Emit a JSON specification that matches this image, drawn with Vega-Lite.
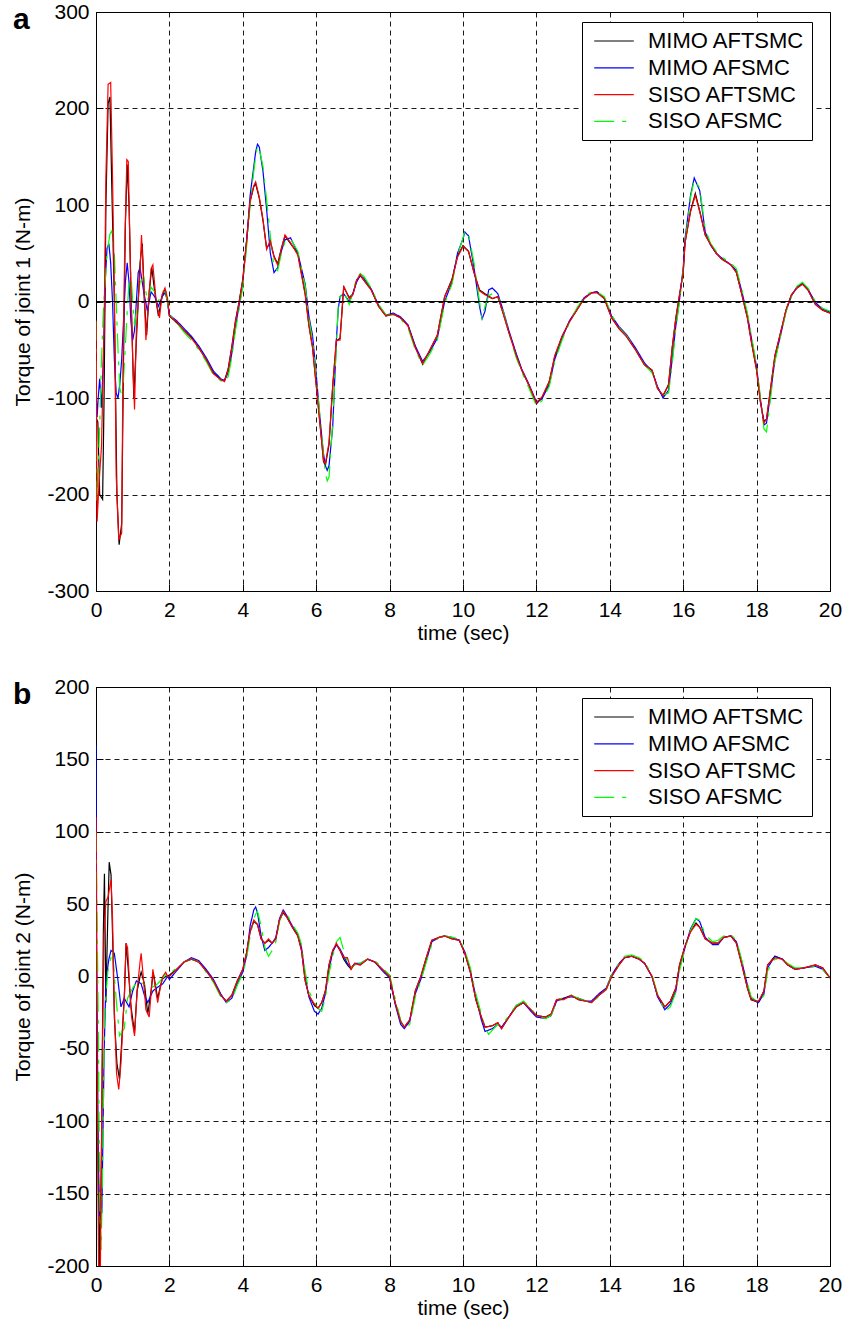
{
"$schema": "https://vega.github.io/schema/vega-lite/v6.json",
"padding": {"left": 12, "top": 0, "right": 4, "bottom": 4},
"background": "white",
"spacing": 31,
"config": {
  "font": "Liberation Sans",
  "view": {"stroke": "#000", "strokeWidth": 1},
  "axis": {"labelFontSize": 21, "titleFontSize": 21, "titleFontWeight": "normal", "labelColor": "#000", "titleColor": "#000", "domainColor": "#000", "tickColor": "#000", "gridColor": "#000", "gridDash": [5, 4], "gridOpacity": 1, "gridWidth": 0.9, "tickSize": -7, "labelFlush": false, "labelOverlap": false, "labelBound": false},
  "axisX": {"labelPadding": 15, "titlePadding": 2},
  "axisY": {"labelPadding": 14, "titlePadding": 13},
  "legend": {"labelFontSize": 22, "labelColor": "#000", "symbolType": "M-1.8,0H1.8", "symbolSize": 484, "symbolStrokeWidth": 1.2, "strokeColor": "#000", "fillColor": "#fff", "padding": 7, "rowPadding": 3.8, "symbolOffset": 13, "labelOffset": 22, "labelLimit": 400, "cornerRadius": 0},
  "title": {"fontSize": 30, "fontWeight": "bold", "color": "#000", "anchor": "start", "frame": "bounds", "offset": 0, "baseline": "alphabetic", "dy": 38}
},
"datasets": {
"ja": [
{"s":"MIMO AFTSMC","t":0,"v":-120},{"s":"MIMO AFTSMC","t":0.05,"v":-125},{"s":"MIMO AFTSMC","t":0.1,"v":-200},{"s":"MIMO AFTSMC","t":0.18,"v":-205},{"s":"MIMO AFTSMC","t":0.22,"v":-100},{"s":"MIMO AFTSMC","t":0.27,"v":100},{"s":"MIMO AFTSMC","t":0.33,"v":205},{"s":"MIMO AFTSMC","t":0.38,"v":212},{"s":"MIMO AFTSMC","t":0.43,"v":120},{"s":"MIMO AFTSMC","t":0.5,"v":0},{"s":"MIMO AFTSMC","t":0.57,"v":-200},{"s":"MIMO AFTSMC","t":0.63,"v":-252},{"s":"MIMO AFTSMC","t":0.7,"v":-230},{"s":"MIMO AFTSMC","t":0.75,"v":-60},{"s":"MIMO AFTSMC","t":0.8,"v":80},{"s":"MIMO AFTSMC","t":0.85,"v":142},{"s":"MIMO AFTSMC","t":0.9,"v":100},{"s":"MIMO AFTSMC","t":0.96,"v":0},{"s":"MIMO AFTSMC","t":1.03,"v":-100},{"s":"MIMO AFTSMC","t":1.1,"v":-40},{"s":"MIMO AFTSMC","t":1.2,"v":40},{"s":"MIMO AFTSMC","t":1.26,"v":60},{"s":"MIMO AFTSMC","t":1.32,"v":0},{"s":"MIMO AFTSMC","t":1.38,"v":-35},{"s":"MIMO AFTSMC","t":1.45,"v":10},{"s":"MIMO AFTSMC","t":1.52,"v":35},{"s":"MIMO AFTSMC","t":1.6,"v":10},{"s":"MIMO AFTSMC","t":1.7,"v":-15},{"s":"MIMO AFTSMC","t":1.8,"v":5},{"s":"MIMO AFTSMC","t":1.87,"v":12},{"s":"MIMO AFTSMC","t":1.95,"v":0},
{"s":"MIMO AFTSMC","t":2,"v":-15},{"s":"MIMO AFTSMC","t":2.2,"v":-22},{"s":"MIMO AFTSMC","t":2.4,"v":-30},{"s":"MIMO AFTSMC","t":2.6,"v":-37},{"s":"MIMO AFTSMC","t":2.8,"v":-48},{"s":"MIMO AFTSMC","t":3,"v":-60},{"s":"MIMO AFTSMC","t":3.2,"v":-74},{"s":"MIMO AFTSMC","t":3.4,"v":-81},{"s":"MIMO AFTSMC","t":3.5,"v":-82},{"s":"MIMO AFTSMC","t":3.6,"v":-70},{"s":"MIMO AFTSMC","t":3.7,"v":-47},{"s":"MIMO AFTSMC","t":3.8,"v":-20},{"s":"MIMO AFTSMC","t":3.9,"v":0},{"s":"MIMO AFTSMC","t":4,"v":23},{"s":"MIMO AFTSMC","t":4.1,"v":62},{"s":"MIMO AFTSMC","t":4.2,"v":104},{"s":"MIMO AFTSMC","t":4.3,"v":119},{"s":"MIMO AFTSMC","t":4.35,"v":122},{"s":"MIMO AFTSMC","t":4.45,"v":107},{"s":"MIMO AFTSMC","t":4.55,"v":84},{"s":"MIMO AFTSMC","t":4.65,"v":55},{"s":"MIMO AFTSMC","t":4.75,"v":62},{"s":"MIMO AFTSMC","t":4.85,"v":47},{"s":"MIMO AFTSMC","t":4.95,"v":39},{"s":"MIMO AFTSMC","t":5.05,"v":55},{"s":"MIMO AFTSMC","t":5.15,"v":68},{"s":"MIMO AFTSMC","t":5.3,"v":60},{"s":"MIMO AFTSMC","t":5.5,"v":50},{"s":"MIMO AFTSMC","t":5.7,"v":8},{"s":"MIMO AFTSMC","t":5.8,"v":-24},{"s":"MIMO AFTSMC","t":5.9,"v":-47},{"s":"MIMO AFTSMC","t":6,"v":-86},{"s":"MIMO AFTSMC","t":6.1,"v":-125},{"s":"MIMO AFTSMC","t":6.2,"v":-166},{"s":"MIMO AFTSMC","t":6.25,"v":-170},{"s":"MIMO AFTSMC","t":6.35,"v":-148},{"s":"MIMO AFTSMC","t":6.45,"v":-88},{"s":"MIMO AFTSMC","t":6.55,"v":-41},{"s":"MIMO AFTSMC","t":6.65,"v":-38},{"s":"MIMO AFTSMC","t":6.75,"v":15},{"s":"MIMO AFTSMC","t":6.9,"v":4},{"s":"MIMO AFTSMC","t":7,"v":8},{"s":"MIMO AFTSMC","t":7.1,"v":22},{"s":"MIMO AFTSMC","t":7.2,"v":27},{"s":"MIMO AFTSMC","t":7.3,"v":22},{"s":"MIMO AFTSMC","t":7.5,"v":12},{"s":"MIMO AFTSMC","t":7.7,"v":-5},{"s":"MIMO AFTSMC","t":7.9,"v":-15},{"s":"MIMO AFTSMC","t":8.1,"v":-13},{"s":"MIMO AFTSMC","t":8.3,"v":-17},{"s":"MIMO AFTSMC","t":8.5,"v":-25},{"s":"MIMO AFTSMC","t":8.7,"v":-47},{"s":"MIMO AFTSMC","t":8.9,"v":-65},{"s":"MIMO AFTSMC","t":9.1,"v":-50},{"s":"MIMO AFTSMC","t":9.3,"v":-35},{"s":"MIMO AFTSMC","t":9.5,"v":5},{"s":"MIMO AFTSMC","t":9.7,"v":23},{"s":"MIMO AFTSMC","t":9.85,"v":47},{"s":"MIMO AFTSMC","t":10,"v":58},{"s":"MIMO AFTSMC","t":10.15,"v":52},{"s":"MIMO AFTSMC","t":10.3,"v":30},{"s":"MIMO AFTSMC","t":10.45,"v":12},{"s":"MIMO AFTSMC","t":10.6,"v":8},{"s":"MIMO AFTSMC","t":10.8,"v":3},{"s":"MIMO AFTSMC","t":10.95,"v":5},{"s":"MIMO AFTSMC","t":11.1,"v":-13},{"s":"MIMO AFTSMC","t":11.25,"v":-32},{"s":"MIMO AFTSMC","t":11.45,"v":-55},{"s":"MIMO AFTSMC","t":11.6,"v":-71},{"s":"MIMO AFTSMC","t":11.8,"v":-87},{"s":"MIMO AFTSMC","t":12,"v":-106},{"s":"MIMO AFTSMC","t":12.15,"v":-100},{"s":"MIMO AFTSMC","t":12.35,"v":-83},{"s":"MIMO AFTSMC","t":12.5,"v":-57},{"s":"MIMO AFTSMC","t":12.7,"v":-36},{"s":"MIMO AFTSMC","t":12.9,"v":-21},{"s":"MIMO AFTSMC","t":13.1,"v":-9},{"s":"MIMO AFTSMC","t":13.3,"v":3},{"s":"MIMO AFTSMC","t":13.5,"v":9},{"s":"MIMO AFTSMC","t":13.65,"v":10},{"s":"MIMO AFTSMC","t":13.85,"v":3},{"s":"MIMO AFTSMC","t":14.05,"v":-17},{"s":"MIMO AFTSMC","t":14.25,"v":-28},{"s":"MIMO AFTSMC","t":14.45,"v":-36},{"s":"MIMO AFTSMC","t":14.7,"v":-50},{"s":"MIMO AFTSMC","t":14.95,"v":-66},{"s":"MIMO AFTSMC","t":15.15,"v":-71},{"s":"MIMO AFTSMC","t":15.3,"v":-90},{"s":"MIMO AFTSMC","t":15.45,"v":-98},{"s":"MIMO AFTSMC","t":15.6,"v":-86},{"s":"MIMO AFTSMC","t":15.7,"v":-48},{"s":"MIMO AFTSMC","t":15.8,"v":-17},{"s":"MIMO AFTSMC","t":15.9,"v":7},{"s":"MIMO AFTSMC","t":16,"v":30},{"s":"MIMO AFTSMC","t":16.05,"v":61},{"s":"MIMO AFTSMC","t":16.2,"v":94},{"s":"MIMO AFTSMC","t":16.33,"v":112},{"s":"MIMO AFTSMC","t":16.45,"v":94},{"s":"MIMO AFTSMC","t":16.6,"v":69},{"s":"MIMO AFTSMC","t":16.75,"v":59},{"s":"MIMO AFTSMC","t":16.9,"v":50},{"s":"MIMO AFTSMC","t":17.05,"v":44},{"s":"MIMO AFTSMC","t":17.3,"v":38},{"s":"MIMO AFTSMC","t":17.45,"v":30},{"s":"MIMO AFTSMC","t":17.6,"v":7},{"s":"MIMO AFTSMC","t":17.75,"v":-17},{"s":"MIMO AFTSMC","t":17.85,"v":-40},{"s":"MIMO AFTSMC","t":18,"v":-71},{"s":"MIMO AFTSMC","t":18.1,"v":-103},{"s":"MIMO AFTSMC","t":18.2,"v":-124},{"s":"MIMO AFTSMC","t":18.27,"v":-122},{"s":"MIMO AFTSMC","t":18.35,"v":-99},{"s":"MIMO AFTSMC","t":18.5,"v":-56},{"s":"MIMO AFTSMC","t":18.7,"v":-25},{"s":"MIMO AFTSMC","t":18.8,"v":-9},{"s":"MIMO AFTSMC","t":18.95,"v":7},{"s":"MIMO AFTSMC","t":19.1,"v":14},{"s":"MIMO AFTSMC","t":19.25,"v":18},{"s":"MIMO AFTSMC","t":19.4,"v":12},{"s":"MIMO AFTSMC","t":19.6,"v":-3},{"s":"MIMO AFTSMC","t":19.8,"v":-9},{"s":"MIMO AFTSMC","t":20,"v":-12},
{"s":"MIMO AFSMC","t":0,"v":-90},{"s":"MIMO AFSMC","t":0.03,"v":-120},{"s":"MIMO AFSMC","t":0.06,"v":-100},{"s":"MIMO AFSMC","t":0.1,"v":-80},{"s":"MIMO AFSMC","t":0.15,"v":-110},{"s":"MIMO AFSMC","t":0.2,"v":-60},{"s":"MIMO AFSMC","t":0.25,"v":20},{"s":"MIMO AFSMC","t":0.3,"v":55},{"s":"MIMO AFSMC","t":0.35,"v":60},{"s":"MIMO AFSMC","t":0.4,"v":40},{"s":"MIMO AFSMC","t":0.45,"v":0},{"s":"MIMO AFSMC","t":0.5,"v":-60},{"s":"MIMO AFSMC","t":0.55,"v":-95},{"s":"MIMO AFSMC","t":0.6,"v":-100},{"s":"MIMO AFSMC","t":0.65,"v":-85},{"s":"MIMO AFSMC","t":0.7,"v":-60},{"s":"MIMO AFSMC","t":0.75,"v":-20},{"s":"MIMO AFSMC","t":0.8,"v":20},{"s":"MIMO AFSMC","t":0.85,"v":40},{"s":"MIMO AFSMC","t":0.9,"v":20},{"s":"MIMO AFSMC","t":0.95,"v":-20},{"s":"MIMO AFSMC","t":1,"v":-40},{"s":"MIMO AFSMC","t":1.05,"v":-30},{"s":"MIMO AFSMC","t":1.1,"v":0},{"s":"MIMO AFSMC","t":1.15,"v":30},{"s":"MIMO AFSMC","t":1.2,"v":35},{"s":"MIMO AFSMC","t":1.3,"v":10},{"s":"MIMO AFSMC","t":1.4,"v":-10},{"s":"MIMO AFSMC","t":1.5,"v":10},{"s":"MIMO AFSMC","t":1.6,"v":5},{"s":"MIMO AFSMC","t":1.7,"v":-5},{"s":"MIMO AFSMC","t":1.8,"v":5},{"s":"MIMO AFSMC","t":1.9,"v":10},
{"s":"MIMO AFSMC","t":2,"v":-14},{"s":"MIMO AFSMC","t":2.2,"v":-20},{"s":"MIMO AFSMC","t":2.4,"v":-28},{"s":"MIMO AFSMC","t":2.6,"v":-36},{"s":"MIMO AFSMC","t":2.8,"v":-46},{"s":"MIMO AFSMC","t":3,"v":-58},{"s":"MIMO AFSMC","t":3.2,"v":-72},{"s":"MIMO AFSMC","t":3.4,"v":-80},{"s":"MIMO AFSMC","t":3.5,"v":-82},{"s":"MIMO AFSMC","t":3.6,"v":-74},{"s":"MIMO AFSMC","t":3.7,"v":-54},{"s":"MIMO AFSMC","t":3.8,"v":-26},{"s":"MIMO AFSMC","t":3.9,"v":-4},{"s":"MIMO AFSMC","t":4,"v":20},{"s":"MIMO AFSMC","t":4.1,"v":60},{"s":"MIMO AFSMC","t":4.2,"v":110},{"s":"MIMO AFSMC","t":4.3,"v":140},{"s":"MIMO AFSMC","t":4.35,"v":155},{"s":"MIMO AFSMC","t":4.4,"v":163},{"s":"MIMO AFSMC","t":4.45,"v":160},{"s":"MIMO AFSMC","t":4.55,"v":135},{"s":"MIMO AFSMC","t":4.65,"v":95},{"s":"MIMO AFSMC","t":4.75,"v":50},{"s":"MIMO AFSMC","t":4.85,"v":30},{"s":"MIMO AFSMC","t":4.95,"v":35},{"s":"MIMO AFSMC","t":5.05,"v":52},{"s":"MIMO AFSMC","t":5.15,"v":64},{"s":"MIMO AFSMC","t":5.3,"v":66},{"s":"MIMO AFSMC","t":5.5,"v":50},{"s":"MIMO AFSMC","t":5.7,"v":18},{"s":"MIMO AFSMC","t":5.8,"v":-15},{"s":"MIMO AFSMC","t":5.9,"v":-35},{"s":"MIMO AFSMC","t":6,"v":-75},{"s":"MIMO AFSMC","t":6.1,"v":-120},{"s":"MIMO AFSMC","t":6.2,"v":-158},{"s":"MIMO AFSMC","t":6.25,"v":-170},{"s":"MIMO AFSMC","t":6.3,"v":-175},{"s":"MIMO AFSMC","t":6.35,"v":-170},{"s":"MIMO AFSMC","t":6.45,"v":-130},{"s":"MIMO AFSMC","t":6.55,"v":-40},{"s":"MIMO AFSMC","t":6.6,"v":-8},{"s":"MIMO AFSMC","t":6.65,"v":5},{"s":"MIMO AFSMC","t":6.75,"v":8},{"s":"MIMO AFSMC","t":6.9,"v":0},{"s":"MIMO AFSMC","t":7,"v":8},{"s":"MIMO AFSMC","t":7.1,"v":20},{"s":"MIMO AFSMC","t":7.2,"v":27},{"s":"MIMO AFSMC","t":7.3,"v":24},{"s":"MIMO AFSMC","t":7.5,"v":13},{"s":"MIMO AFSMC","t":7.7,"v":-4},{"s":"MIMO AFSMC","t":7.9,"v":-14},{"s":"MIMO AFSMC","t":8.1,"v":-12},{"s":"MIMO AFSMC","t":8.3,"v":-16},{"s":"MIMO AFSMC","t":8.5,"v":-24},{"s":"MIMO AFSMC","t":8.7,"v":-46},{"s":"MIMO AFSMC","t":8.9,"v":-62},{"s":"MIMO AFSMC","t":9.1,"v":-52},{"s":"MIMO AFSMC","t":9.3,"v":-38},{"s":"MIMO AFSMC","t":9.5,"v":0},{"s":"MIMO AFSMC","t":9.7,"v":20},{"s":"MIMO AFSMC","t":9.85,"v":50},{"s":"MIMO AFSMC","t":10,"v":65},{"s":"MIMO AFSMC","t":10.05,"v":72},{"s":"MIMO AFSMC","t":10.15,"v":68},{"s":"MIMO AFSMC","t":10.3,"v":35},{"s":"MIMO AFSMC","t":10.45,"v":-5},{"s":"MIMO AFSMC","t":10.52,"v":-18},{"s":"MIMO AFSMC","t":10.6,"v":-10},{"s":"MIMO AFSMC","t":10.7,"v":12},{"s":"MIMO AFSMC","t":10.8,"v":14},{"s":"MIMO AFSMC","t":10.95,"v":8},{"s":"MIMO AFSMC","t":11.1,"v":-10},{"s":"MIMO AFSMC","t":11.25,"v":-30},{"s":"MIMO AFSMC","t":11.45,"v":-54},{"s":"MIMO AFSMC","t":11.6,"v":-70},{"s":"MIMO AFSMC","t":11.8,"v":-86},{"s":"MIMO AFSMC","t":12,"v":-104},{"s":"MIMO AFSMC","t":12.15,"v":-101},{"s":"MIMO AFSMC","t":12.35,"v":-86},{"s":"MIMO AFSMC","t":12.5,"v":-60},{"s":"MIMO AFSMC","t":12.7,"v":-38},{"s":"MIMO AFSMC","t":12.9,"v":-20},{"s":"MIMO AFSMC","t":13.1,"v":-8},{"s":"MIMO AFSMC","t":13.3,"v":4},{"s":"MIMO AFSMC","t":13.5,"v":9},{"s":"MIMO AFSMC","t":13.65,"v":10},{"s":"MIMO AFSMC","t":13.85,"v":4},{"s":"MIMO AFSMC","t":14.05,"v":-15},{"s":"MIMO AFSMC","t":14.25,"v":-26},{"s":"MIMO AFSMC","t":14.45,"v":-34},{"s":"MIMO AFSMC","t":14.7,"v":-48},{"s":"MIMO AFSMC","t":14.95,"v":-64},{"s":"MIMO AFSMC","t":15.15,"v":-72},{"s":"MIMO AFSMC","t":15.3,"v":-88},{"s":"MIMO AFSMC","t":15.45,"v":-100},{"s":"MIMO AFSMC","t":15.6,"v":-92},{"s":"MIMO AFSMC","t":15.7,"v":-60},{"s":"MIMO AFSMC","t":15.8,"v":-25},{"s":"MIMO AFSMC","t":15.9,"v":2},{"s":"MIMO AFSMC","t":16,"v":35},{"s":"MIMO AFSMC","t":16.05,"v":65},{"s":"MIMO AFSMC","t":16.2,"v":110},{"s":"MIMO AFSMC","t":16.3,"v":128},{"s":"MIMO AFSMC","t":16.45,"v":115},{"s":"MIMO AFSMC","t":16.6,"v":72},{"s":"MIMO AFSMC","t":16.75,"v":58},{"s":"MIMO AFSMC","t":16.9,"v":50},{"s":"MIMO AFSMC","t":17.05,"v":45},{"s":"MIMO AFSMC","t":17.3,"v":38},{"s":"MIMO AFSMC","t":17.45,"v":32},{"s":"MIMO AFSMC","t":17.6,"v":10},{"s":"MIMO AFSMC","t":17.75,"v":-14},{"s":"MIMO AFSMC","t":17.85,"v":-36},{"s":"MIMO AFSMC","t":18,"v":-68},{"s":"MIMO AFSMC","t":18.1,"v":-100},{"s":"MIMO AFSMC","t":18.2,"v":-128},{"s":"MIMO AFSMC","t":18.27,"v":-126},{"s":"MIMO AFSMC","t":18.35,"v":-104},{"s":"MIMO AFSMC","t":18.5,"v":-60},{"s":"MIMO AFSMC","t":18.7,"v":-27},{"s":"MIMO AFSMC","t":18.8,"v":-10},{"s":"MIMO AFSMC","t":18.95,"v":6},{"s":"MIMO AFSMC","t":19.1,"v":15},{"s":"MIMO AFSMC","t":19.25,"v":19},{"s":"MIMO AFSMC","t":19.4,"v":13},{"s":"MIMO AFSMC","t":19.6,"v":-1},{"s":"MIMO AFSMC","t":19.8,"v":-8},{"s":"MIMO AFSMC","t":20,"v":-11},
{"s":"SISO AFSMC","t":0,"v":-20},{"s":"SISO AFSMC","t":0.02,"v":-210},{"s":"SISO AFSMC","t":0.06,"v":-170},{"s":"SISO AFSMC","t":0.1,"v":-130},{"s":"SISO AFSMC","t":0.15,"v":-60},{"s":"SISO AFSMC","t":0.2,"v":-10},{"s":"SISO AFSMC","t":0.25,"v":20},{"s":"SISO AFSMC","t":0.3,"v":50},{"s":"SISO AFSMC","t":0.38,"v":70},{"s":"SISO AFSMC","t":0.43,"v":73},{"s":"SISO AFSMC","t":0.5,"v":50},{"s":"SISO AFSMC","t":0.55,"v":0},{"s":"SISO AFSMC","t":0.6,"v":-50},{"s":"SISO AFSMC","t":0.65,"v":-90},{"s":"SISO AFSMC","t":0.72,"v":-100},{"s":"SISO AFSMC","t":0.78,"v":-60},{"s":"SISO AFSMC","t":0.85,"v":-10},{"s":"SISO AFSMC","t":0.9,"v":20},{"s":"SISO AFSMC","t":0.95,"v":30},{"s":"SISO AFSMC","t":1,"v":0},{"s":"SISO AFSMC","t":1.05,"v":-25},{"s":"SISO AFSMC","t":1.1,"v":-10},{"s":"SISO AFSMC","t":1.2,"v":20},{"s":"SISO AFSMC","t":1.3,"v":25},{"s":"SISO AFSMC","t":1.4,"v":0},{"s":"SISO AFSMC","t":1.5,"v":15},{"s":"SISO AFSMC","t":1.6,"v":10},{"s":"SISO AFSMC","t":1.7,"v":0},{"s":"SISO AFSMC","t":1.8,"v":10},{"s":"SISO AFSMC","t":1.9,"v":10},
{"s":"SISO AFSMC","t":2,"v":-13},{"s":"SISO AFSMC","t":2.2,"v":-22},{"s":"SISO AFSMC","t":2.4,"v":-32},{"s":"SISO AFSMC","t":2.6,"v":-40},{"s":"SISO AFSMC","t":2.8,"v":-50},{"s":"SISO AFSMC","t":3,"v":-62},{"s":"SISO AFSMC","t":3.2,"v":-76},{"s":"SISO AFSMC","t":3.4,"v":-82},{"s":"SISO AFSMC","t":3.5,"v":-84},{"s":"SISO AFSMC","t":3.6,"v":-78},{"s":"SISO AFSMC","t":3.7,"v":-58},{"s":"SISO AFSMC","t":3.8,"v":-30},{"s":"SISO AFSMC","t":3.9,"v":-8},{"s":"SISO AFSMC","t":4,"v":15},{"s":"SISO AFSMC","t":4.1,"v":55},{"s":"SISO AFSMC","t":4.2,"v":100},{"s":"SISO AFSMC","t":4.3,"v":135},{"s":"SISO AFSMC","t":4.35,"v":150},{"s":"SISO AFSMC","t":4.4,"v":161},{"s":"SISO AFSMC","t":4.45,"v":158},{"s":"SISO AFSMC","t":4.55,"v":140},{"s":"SISO AFSMC","t":4.65,"v":105},{"s":"SISO AFSMC","t":4.75,"v":68},{"s":"SISO AFSMC","t":4.85,"v":35},{"s":"SISO AFSMC","t":4.95,"v":32},{"s":"SISO AFSMC","t":5.05,"v":50},{"s":"SISO AFSMC","t":5.15,"v":62},{"s":"SISO AFSMC","t":5.3,"v":65},{"s":"SISO AFSMC","t":5.5,"v":52},{"s":"SISO AFSMC","t":5.7,"v":16},{"s":"SISO AFSMC","t":5.8,"v":-18},{"s":"SISO AFSMC","t":5.9,"v":-40},{"s":"SISO AFSMC","t":6,"v":-80},{"s":"SISO AFSMC","t":6.1,"v":-118},{"s":"SISO AFSMC","t":6.2,"v":-160},{"s":"SISO AFSMC","t":6.25,"v":-178},{"s":"SISO AFSMC","t":6.3,"v":-186},{"s":"SISO AFSMC","t":6.35,"v":-182},{"s":"SISO AFSMC","t":6.45,"v":-125},{"s":"SISO AFSMC","t":6.55,"v":-45},{"s":"SISO AFSMC","t":6.6,"v":-5},{"s":"SISO AFSMC","t":6.65,"v":5},{"s":"SISO AFSMC","t":6.75,"v":10},{"s":"SISO AFSMC","t":6.9,"v":-3},{"s":"SISO AFSMC","t":7,"v":10},{"s":"SISO AFSMC","t":7.1,"v":24},{"s":"SISO AFSMC","t":7.2,"v":29},{"s":"SISO AFSMC","t":7.3,"v":26},{"s":"SISO AFSMC","t":7.5,"v":14},{"s":"SISO AFSMC","t":7.7,"v":-3},{"s":"SISO AFSMC","t":7.9,"v":-14},{"s":"SISO AFSMC","t":8.1,"v":-14},{"s":"SISO AFSMC","t":8.3,"v":-18},{"s":"SISO AFSMC","t":8.5,"v":-27},{"s":"SISO AFSMC","t":8.7,"v":-50},{"s":"SISO AFSMC","t":8.9,"v":-66},{"s":"SISO AFSMC","t":9.1,"v":-54},{"s":"SISO AFSMC","t":9.3,"v":-40},{"s":"SISO AFSMC","t":9.5,"v":-2},{"s":"SISO AFSMC","t":9.7,"v":18},{"s":"SISO AFSMC","t":9.85,"v":48},{"s":"SISO AFSMC","t":10,"v":66},{"s":"SISO AFSMC","t":10.05,"v":73},{"s":"SISO AFSMC","t":10.15,"v":70},{"s":"SISO AFSMC","t":10.3,"v":40},{"s":"SISO AFSMC","t":10.45,"v":0},{"s":"SISO AFSMC","t":10.52,"v":-18},{"s":"SISO AFSMC","t":10.6,"v":-5},{"s":"SISO AFSMC","t":10.7,"v":6},{"s":"SISO AFSMC","t":10.8,"v":8},{"s":"SISO AFSMC","t":10.95,"v":6},{"s":"SISO AFSMC","t":11.1,"v":-11},{"s":"SISO AFSMC","t":11.25,"v":-33},{"s":"SISO AFSMC","t":11.45,"v":-58},{"s":"SISO AFSMC","t":11.6,"v":-73},{"s":"SISO AFSMC","t":11.8,"v":-90},{"s":"SISO AFSMC","t":12,"v":-108},{"s":"SISO AFSMC","t":12.15,"v":-103},{"s":"SISO AFSMC","t":12.35,"v":-88},{"s":"SISO AFSMC","t":12.5,"v":-62},{"s":"SISO AFSMC","t":12.7,"v":-40},{"s":"SISO AFSMC","t":12.9,"v":-22},{"s":"SISO AFSMC","t":13.1,"v":-7},{"s":"SISO AFSMC","t":13.3,"v":5},{"s":"SISO AFSMC","t":13.5,"v":10},{"s":"SISO AFSMC","t":13.65,"v":10},{"s":"SISO AFSMC","t":13.85,"v":5},{"s":"SISO AFSMC","t":14.05,"v":-14},{"s":"SISO AFSMC","t":14.25,"v":-27},{"s":"SISO AFSMC","t":14.45,"v":-35},{"s":"SISO AFSMC","t":14.7,"v":-50},{"s":"SISO AFSMC","t":14.95,"v":-66},{"s":"SISO AFSMC","t":15.15,"v":-74},{"s":"SISO AFSMC","t":15.3,"v":-90},{"s":"SISO AFSMC","t":15.45,"v":-97},{"s":"SISO AFSMC","t":15.6,"v":-95},{"s":"SISO AFSMC","t":15.7,"v":-65},{"s":"SISO AFSMC","t":15.8,"v":-28},{"s":"SISO AFSMC","t":15.9,"v":0},{"s":"SISO AFSMC","t":16,"v":32},{"s":"SISO AFSMC","t":16.05,"v":60},{"s":"SISO AFSMC","t":16.2,"v":108},{"s":"SISO AFSMC","t":16.3,"v":126},{"s":"SISO AFSMC","t":16.45,"v":118},{"s":"SISO AFSMC","t":16.6,"v":75},{"s":"SISO AFSMC","t":16.75,"v":60},{"s":"SISO AFSMC","t":16.9,"v":52},{"s":"SISO AFSMC","t":17.05,"v":46},{"s":"SISO AFSMC","t":17.3,"v":40},{"s":"SISO AFSMC","t":17.45,"v":34},{"s":"SISO AFSMC","t":17.6,"v":12},{"s":"SISO AFSMC","t":17.75,"v":-12},{"s":"SISO AFSMC","t":17.85,"v":-34},{"s":"SISO AFSMC","t":18,"v":-66},{"s":"SISO AFSMC","t":18.1,"v":-98},{"s":"SISO AFSMC","t":18.2,"v":-132},{"s":"SISO AFSMC","t":18.27,"v":-135},{"s":"SISO AFSMC","t":18.35,"v":-110},{"s":"SISO AFSMC","t":18.5,"v":-62},{"s":"SISO AFSMC","t":18.7,"v":-28},{"s":"SISO AFSMC","t":18.8,"v":-11},{"s":"SISO AFSMC","t":18.95,"v":5},{"s":"SISO AFSMC","t":19.1,"v":16},{"s":"SISO AFSMC","t":19.25,"v":20},{"s":"SISO AFSMC","t":19.4,"v":14},{"s":"SISO AFSMC","t":19.6,"v":0},{"s":"SISO AFSMC","t":19.8,"v":-7},{"s":"SISO AFSMC","t":20,"v":-10},
{"s":"SISO AFTSMC","t":0,"v":-20},{"s":"SISO AFTSMC","t":0.03,"v":-228},{"s":"SISO AFTSMC","t":0.08,"v":-190},{"s":"SISO AFTSMC","t":0.15,"v":-150},{"s":"SISO AFTSMC","t":0.22,"v":-30},{"s":"SISO AFTSMC","t":0.27,"v":130},{"s":"SISO AFTSMC","t":0.33,"v":225},{"s":"SISO AFTSMC","t":0.4,"v":227},{"s":"SISO AFTSMC","t":0.45,"v":130},{"s":"SISO AFTSMC","t":0.5,"v":10},{"s":"SISO AFTSMC","t":0.55,"v":-180},{"s":"SISO AFTSMC","t":0.62,"v":-247},{"s":"SISO AFTSMC","t":0.7,"v":-240},{"s":"SISO AFTSMC","t":0.73,"v":-90},{"s":"SISO AFTSMC","t":0.78,"v":50},{"s":"SISO AFTSMC","t":0.84,"v":147},{"s":"SISO AFTSMC","t":0.88,"v":145},{"s":"SISO AFTSMC","t":0.94,"v":30},{"s":"SISO AFTSMC","t":1,"v":-60},{"s":"SISO AFTSMC","t":1.05,"v":-112},{"s":"SISO AFTSMC","t":1.1,"v":-30},{"s":"SISO AFTSMC","t":1.2,"v":30},{"s":"SISO AFTSMC","t":1.24,"v":69},{"s":"SISO AFTSMC","t":1.3,"v":20},{"s":"SISO AFTSMC","t":1.36,"v":-40},{"s":"SISO AFTSMC","t":1.43,"v":0},{"s":"SISO AFTSMC","t":1.5,"v":34},{"s":"SISO AFTSMC","t":1.55,"v":38},{"s":"SISO AFTSMC","t":1.64,"v":0},{"s":"SISO AFTSMC","t":1.73,"v":-17},{"s":"SISO AFTSMC","t":1.8,"v":7},{"s":"SISO AFTSMC","t":1.88,"v":14},{"s":"SISO AFTSMC","t":1.95,"v":3},
{"s":"SISO AFTSMC","t":2,"v":-15},{"s":"SISO AFTSMC","t":2.2,"v":-21},{"s":"SISO AFTSMC","t":2.4,"v":-30},{"s":"SISO AFTSMC","t":2.6,"v":-38},{"s":"SISO AFTSMC","t":2.8,"v":-48},{"s":"SISO AFTSMC","t":3,"v":-60},{"s":"SISO AFTSMC","t":3.2,"v":-75},{"s":"SISO AFTSMC","t":3.4,"v":-81},{"s":"SISO AFTSMC","t":3.5,"v":-83},{"s":"SISO AFTSMC","t":3.6,"v":-71},{"s":"SISO AFTSMC","t":3.7,"v":-48},{"s":"SISO AFTSMC","t":3.8,"v":-21},{"s":"SISO AFTSMC","t":3.9,"v":-1},{"s":"SISO AFTSMC","t":4,"v":22},{"s":"SISO AFTSMC","t":4.1,"v":61},{"s":"SISO AFTSMC","t":4.2,"v":104},{"s":"SISO AFTSMC","t":4.3,"v":120},{"s":"SISO AFTSMC","t":4.35,"v":124},{"s":"SISO AFTSMC","t":4.45,"v":108},{"s":"SISO AFTSMC","t":4.55,"v":85},{"s":"SISO AFTSMC","t":4.65,"v":54},{"s":"SISO AFTSMC","t":4.75,"v":63},{"s":"SISO AFTSMC","t":4.85,"v":46},{"s":"SISO AFTSMC","t":4.95,"v":38},{"s":"SISO AFTSMC","t":5.05,"v":54},{"s":"SISO AFTSMC","t":5.15,"v":69},{"s":"SISO AFTSMC","t":5.3,"v":61},{"s":"SISO AFTSMC","t":5.5,"v":48},{"s":"SISO AFTSMC","t":5.7,"v":7},{"s":"SISO AFTSMC","t":5.8,"v":-25},{"s":"SISO AFTSMC","t":5.9,"v":-48},{"s":"SISO AFTSMC","t":6,"v":-87},{"s":"SISO AFTSMC","t":6.1,"v":-126},{"s":"SISO AFTSMC","t":6.2,"v":-165},{"s":"SISO AFTSMC","t":6.25,"v":-168},{"s":"SISO AFTSMC","t":6.35,"v":-146},{"s":"SISO AFTSMC","t":6.45,"v":-87},{"s":"SISO AFTSMC","t":6.55,"v":-40},{"s":"SISO AFTSMC","t":6.65,"v":-40},{"s":"SISO AFTSMC","t":6.75,"v":16},{"s":"SISO AFTSMC","t":6.9,"v":3},{"s":"SISO AFTSMC","t":7,"v":7},{"s":"SISO AFTSMC","t":7.1,"v":22},{"s":"SISO AFTSMC","t":7.2,"v":28},{"s":"SISO AFTSMC","t":7.3,"v":22},{"s":"SISO AFTSMC","t":7.5,"v":12},{"s":"SISO AFTSMC","t":7.7,"v":-5},{"s":"SISO AFTSMC","t":7.9,"v":-15},{"s":"SISO AFTSMC","t":8.1,"v":-13},{"s":"SISO AFTSMC","t":8.3,"v":-17},{"s":"SISO AFTSMC","t":8.5,"v":-25},{"s":"SISO AFTSMC","t":8.7,"v":-48},{"s":"SISO AFTSMC","t":8.9,"v":-64},{"s":"SISO AFTSMC","t":9.1,"v":-50},{"s":"SISO AFTSMC","t":9.3,"v":-35},{"s":"SISO AFTSMC","t":9.5,"v":5},{"s":"SISO AFTSMC","t":9.7,"v":22},{"s":"SISO AFTSMC","t":9.85,"v":46},{"s":"SISO AFTSMC","t":10,"v":57},{"s":"SISO AFTSMC","t":10.15,"v":52},{"s":"SISO AFTSMC","t":10.3,"v":30},{"s":"SISO AFTSMC","t":10.45,"v":11},{"s":"SISO AFTSMC","t":10.6,"v":7},{"s":"SISO AFTSMC","t":10.8,"v":3},{"s":"SISO AFTSMC","t":10.95,"v":5},{"s":"SISO AFTSMC","t":11.1,"v":-13},{"s":"SISO AFTSMC","t":11.25,"v":-32},{"s":"SISO AFTSMC","t":11.45,"v":-56},{"s":"SISO AFTSMC","t":11.6,"v":-71},{"s":"SISO AFTSMC","t":11.8,"v":-87},{"s":"SISO AFTSMC","t":12,"v":-105},{"s":"SISO AFTSMC","t":12.15,"v":-99},{"s":"SISO AFTSMC","t":12.35,"v":-83},{"s":"SISO AFTSMC","t":12.5,"v":-56},{"s":"SISO AFTSMC","t":12.7,"v":-36},{"s":"SISO AFTSMC","t":12.9,"v":-21},{"s":"SISO AFTSMC","t":13.1,"v":-9},{"s":"SISO AFTSMC","t":13.3,"v":3},{"s":"SISO AFTSMC","t":13.5,"v":9},{"s":"SISO AFTSMC","t":13.65,"v":9},{"s":"SISO AFTSMC","t":13.85,"v":3},{"s":"SISO AFTSMC","t":14.05,"v":-17},{"s":"SISO AFTSMC","t":14.25,"v":-28},{"s":"SISO AFTSMC","t":14.45,"v":-36},{"s":"SISO AFTSMC","t":14.7,"v":-50},{"s":"SISO AFTSMC","t":14.95,"v":-66},{"s":"SISO AFTSMC","t":15.15,"v":-71},{"s":"SISO AFTSMC","t":15.3,"v":-90},{"s":"SISO AFTSMC","t":15.45,"v":-97},{"s":"SISO AFTSMC","t":15.6,"v":-87},{"s":"SISO AFTSMC","t":15.7,"v":-48},{"s":"SISO AFTSMC","t":15.8,"v":-17},{"s":"SISO AFTSMC","t":15.9,"v":7},{"s":"SISO AFTSMC","t":16,"v":30},{"s":"SISO AFTSMC","t":16.05,"v":61},{"s":"SISO AFTSMC","t":16.2,"v":93},{"s":"SISO AFTSMC","t":16.33,"v":110},{"s":"SISO AFTSMC","t":16.45,"v":93},{"s":"SISO AFTSMC","t":16.6,"v":69},{"s":"SISO AFTSMC","t":16.75,"v":59},{"s":"SISO AFTSMC","t":16.9,"v":50},{"s":"SISO AFTSMC","t":17.05,"v":44},{"s":"SISO AFTSMC","t":17.3,"v":38},{"s":"SISO AFTSMC","t":17.45,"v":30},{"s":"SISO AFTSMC","t":17.6,"v":7},{"s":"SISO AFTSMC","t":17.75,"v":-17},{"s":"SISO AFTSMC","t":17.85,"v":-40},{"s":"SISO AFTSMC","t":18,"v":-71},{"s":"SISO AFTSMC","t":18.1,"v":-103},{"s":"SISO AFTSMC","t":18.2,"v":-126},{"s":"SISO AFTSMC","t":18.27,"v":-122},{"s":"SISO AFTSMC","t":18.35,"v":-99},{"s":"SISO AFTSMC","t":18.5,"v":-56},{"s":"SISO AFTSMC","t":18.7,"v":-25},{"s":"SISO AFTSMC","t":18.8,"v":-9},{"s":"SISO AFTSMC","t":18.95,"v":7},{"s":"SISO AFTSMC","t":19.1,"v":14},{"s":"SISO AFTSMC","t":19.25,"v":18},{"s":"SISO AFTSMC","t":19.4,"v":12},{"s":"SISO AFTSMC","t":19.6,"v":-3},{"s":"SISO AFTSMC","t":19.8,"v":-9},{"s":"SISO AFTSMC","t":20,"v":-12}
],
"jb": [
{"s":"MIMO AFTSMC","t":0,"v":0},{"s":"MIMO AFTSMC","t":0.05,"v":-120},{"s":"MIMO AFTSMC","t":0.1,"v":-200},{"s":"MIMO AFTSMC","t":0.15,"v":-120},{"s":"MIMO AFTSMC","t":0.2,"v":30},{"s":"MIMO AFTSMC","t":0.23,"v":71},{"s":"MIMO AFTSMC","t":0.27,"v":-18},{"s":"MIMO AFTSMC","t":0.32,"v":40},{"s":"MIMO AFTSMC","t":0.36,"v":79},{"s":"MIMO AFTSMC","t":0.41,"v":70},{"s":"MIMO AFTSMC","t":0.46,"v":20},{"s":"MIMO AFTSMC","t":0.5,"v":-28},{"s":"MIMO AFTSMC","t":0.57,"v":-60},{"s":"MIMO AFTSMC","t":0.64,"v":-71},{"s":"MIMO AFTSMC","t":0.7,"v":-45},{"s":"MIMO AFTSMC","t":0.77,"v":-15},{"s":"MIMO AFTSMC","t":0.82,"v":23},{"s":"MIMO AFTSMC","t":0.88,"v":5},{"s":"MIMO AFTSMC","t":0.95,"v":-20},{"s":"MIMO AFTSMC","t":1.05,"v":-39},{"s":"MIMO AFTSMC","t":1.12,"v":-10},{"s":"MIMO AFTSMC","t":1.2,"v":0},{"s":"MIMO AFTSMC","t":1.23,"v":3},{"s":"MIMO AFTSMC","t":1.32,"v":-5},{"s":"MIMO AFTSMC","t":1.41,"v":-26},{"s":"MIMO AFTSMC","t":1.5,"v":-10},{"s":"MIMO AFTSMC","t":1.56,"v":3},{"s":"MIMO AFTSMC","t":1.68,"v":-15},{"s":"MIMO AFTSMC","t":1.8,"v":-2},{"s":"MIMO AFTSMC","t":1.9,"v":0},
{"s":"MIMO AFTSMC","t":2,"v":1},{"s":"MIMO AFTSMC","t":2.2,"v":5},{"s":"MIMO AFTSMC","t":2.4,"v":10},{"s":"MIMO AFTSMC","t":2.6,"v":12},{"s":"MIMO AFTSMC","t":2.8,"v":10},{"s":"MIMO AFTSMC","t":3,"v":4},{"s":"MIMO AFTSMC","t":3.2,"v":-3},{"s":"MIMO AFTSMC","t":3.4,"v":-13},{"s":"MIMO AFTSMC","t":3.55,"v":-17},{"s":"MIMO AFTSMC","t":3.7,"v":-13},{"s":"MIMO AFTSMC","t":3.85,"v":-3},{"s":"MIMO AFTSMC","t":4,"v":5},{"s":"MIMO AFTSMC","t":4.1,"v":16},{"s":"MIMO AFTSMC","t":4.2,"v":31},{"s":"MIMO AFTSMC","t":4.3,"v":38},{"s":"MIMO AFTSMC","t":4.4,"v":36},{"s":"MIMO AFTSMC","t":4.5,"v":26},{"s":"MIMO AFTSMC","t":4.6,"v":23},{"s":"MIMO AFTSMC","t":4.7,"v":25},{"s":"MIMO AFTSMC","t":4.8,"v":23},{"s":"MIMO AFTSMC","t":4.9,"v":26},{"s":"MIMO AFTSMC","t":5,"v":39},{"s":"MIMO AFTSMC","t":5.1,"v":44},{"s":"MIMO AFTSMC","t":5.2,"v":41},{"s":"MIMO AFTSMC","t":5.35,"v":34},{"s":"MIMO AFTSMC","t":5.5,"v":28},{"s":"MIMO AFTSMC","t":5.6,"v":18},{"s":"MIMO AFTSMC","t":5.7,"v":-3},{"s":"MIMO AFTSMC","t":5.8,"v":-13},{"s":"MIMO AFTSMC","t":5.95,"v":-20},{"s":"MIMO AFTSMC","t":6.05,"v":-22},{"s":"MIMO AFTSMC","t":6.15,"v":-18},{"s":"MIMO AFTSMC","t":6.25,"v":-10},{"s":"MIMO AFTSMC","t":6.35,"v":8},{"s":"MIMO AFTSMC","t":6.45,"v":18},{"s":"MIMO AFTSMC","t":6.55,"v":22},{"s":"MIMO AFTSMC","t":6.65,"v":18},{"s":"MIMO AFTSMC","t":6.75,"v":12},{"s":"MIMO AFTSMC","t":6.85,"v":8},{"s":"MIMO AFTSMC","t":6.95,"v":5},{"s":"MIMO AFTSMC","t":7.05,"v":9},{"s":"MIMO AFTSMC","t":7.2,"v":8},{"s":"MIMO AFTSMC","t":7.4,"v":12},{"s":"MIMO AFTSMC","t":7.6,"v":10},{"s":"MIMO AFTSMC","t":7.8,"v":5},{"s":"MIMO AFTSMC","t":8,"v":0},{"s":"MIMO AFTSMC","t":8.15,"v":-18},{"s":"MIMO AFTSMC","t":8.3,"v":-31},{"s":"MIMO AFTSMC","t":8.4,"v":-35},{"s":"MIMO AFTSMC","t":8.55,"v":-30},{"s":"MIMO AFTSMC","t":8.7,"v":-10},{"s":"MIMO AFTSMC","t":8.85,"v":0},{"s":"MIMO AFTSMC","t":9,"v":13},{"s":"MIMO AFTSMC","t":9.15,"v":25},{"s":"MIMO AFTSMC","t":9.35,"v":27},{"s":"MIMO AFTSMC","t":9.5,"v":28},{"s":"MIMO AFTSMC","t":9.7,"v":26},{"s":"MIMO AFTSMC","t":9.9,"v":25},{"s":"MIMO AFTSMC","t":10.05,"v":16},{"s":"MIMO AFTSMC","t":10.2,"v":3},{"s":"MIMO AFTSMC","t":10.35,"v":-16},{"s":"MIMO AFTSMC","t":10.5,"v":-28},{"s":"MIMO AFTSMC","t":10.6,"v":-35},{"s":"MIMO AFTSMC","t":10.8,"v":-34},{"s":"MIMO AFTSMC","t":10.95,"v":-32},{"s":"MIMO AFTSMC","t":11.05,"v":-36},{"s":"MIMO AFTSMC","t":11.25,"v":-28},{"s":"MIMO AFTSMC","t":11.45,"v":-21},{"s":"MIMO AFTSMC","t":11.65,"v":-18},{"s":"MIMO AFTSMC","t":11.85,"v":-23},{"s":"MIMO AFTSMC","t":12,"v":-27},{"s":"MIMO AFTSMC","t":12.25,"v":-28},{"s":"MIMO AFTSMC","t":12.4,"v":-26},{"s":"MIMO AFTSMC","t":12.55,"v":-16},{"s":"MIMO AFTSMC","t":12.75,"v":-15},{"s":"MIMO AFTSMC","t":12.95,"v":-13},{"s":"MIMO AFTSMC","t":13.15,"v":-16},{"s":"MIMO AFTSMC","t":13.35,"v":-17},{"s":"MIMO AFTSMC","t":13.5,"v":-18},{"s":"MIMO AFTSMC","t":13.7,"v":-13},{"s":"MIMO AFTSMC","t":13.9,"v":-9},{"s":"MIMO AFTSMC","t":14.05,"v":0},{"s":"MIMO AFTSMC","t":14.25,"v":8},{"s":"MIMO AFTSMC","t":14.4,"v":13},{"s":"MIMO AFTSMC","t":14.6,"v":14},{"s":"MIMO AFTSMC","t":14.8,"v":12},{"s":"MIMO AFTSMC","t":14.95,"v":9},{"s":"MIMO AFTSMC","t":15.15,"v":0},{"s":"MIMO AFTSMC","t":15.3,"v":-13},{"s":"MIMO AFTSMC","t":15.5,"v":-21},{"s":"MIMO AFTSMC","t":15.65,"v":-17},{"s":"MIMO AFTSMC","t":15.8,"v":-8},{"s":"MIMO AFTSMC","t":15.9,"v":8},{"s":"MIMO AFTSMC","t":16.05,"v":21},{"s":"MIMO AFTSMC","t":16.2,"v":31},{"s":"MIMO AFTSMC","t":16.35,"v":37},{"s":"MIMO AFTSMC","t":16.45,"v":34},{"s":"MIMO AFTSMC","t":16.6,"v":26},{"s":"MIMO AFTSMC","t":16.8,"v":23},{"s":"MIMO AFTSMC","t":16.95,"v":23},{"s":"MIMO AFTSMC","t":17.1,"v":27},{"s":"MIMO AFTSMC","t":17.3,"v":28},{"s":"MIMO AFTSMC","t":17.45,"v":23},{"s":"MIMO AFTSMC","t":17.6,"v":8},{"s":"MIMO AFTSMC","t":17.75,"v":-8},{"s":"MIMO AFTSMC","t":17.85,"v":-16},{"s":"MIMO AFTSMC","t":18.05,"v":-18},{"s":"MIMO AFTSMC","t":18.2,"v":-10},{"s":"MIMO AFTSMC","t":18.3,"v":8},{"s":"MIMO AFTSMC","t":18.5,"v":14},{"s":"MIMO AFTSMC","t":18.7,"v":12},{"s":"MIMO AFTSMC","t":18.85,"v":8},{"s":"MIMO AFTSMC","t":19.05,"v":5},{"s":"MIMO AFTSMC","t":19.3,"v":6},{"s":"MIMO AFTSMC","t":19.6,"v":8},{"s":"MIMO AFTSMC","t":19.8,"v":6},{"s":"MIMO AFTSMC","t":20,"v":-1},
{"s":"MIMO AFSMC","t":0,"v":160},{"s":"MIMO AFSMC","t":0.02,"v":20},{"s":"MIMO AFSMC","t":0.06,"v":-120},{"s":"MIMO AFSMC","t":0.1,"v":-165},{"s":"MIMO AFSMC","t":0.16,"v":-163},{"s":"MIMO AFSMC","t":0.22,"v":-54},{"s":"MIMO AFSMC","t":0.27,"v":-3},{"s":"MIMO AFSMC","t":0.35,"v":12},{"s":"MIMO AFSMC","t":0.41,"v":18},{"s":"MIMO AFSMC","t":0.5,"v":16},{"s":"MIMO AFSMC","t":0.6,"v":-3},{"s":"MIMO AFSMC","t":0.68,"v":-21},{"s":"MIMO AFSMC","t":0.77,"v":-15},{"s":"MIMO AFSMC","t":0.9,"v":-21},{"s":"MIMO AFSMC","t":1,"v":-10},{"s":"MIMO AFSMC","t":1.1,"v":-3},{"s":"MIMO AFSMC","t":1.23,"v":-5},{"s":"MIMO AFSMC","t":1.32,"v":-13},{"s":"MIMO AFSMC","t":1.41,"v":-18},{"s":"MIMO AFSMC","t":1.55,"v":-10},{"s":"MIMO AFSMC","t":1.7,"v":-7},{"s":"MIMO AFSMC","t":1.82,"v":-5},{"s":"MIMO AFSMC","t":1.95,"v":0},
{"s":"MIMO AFSMC","t":2,"v":-2},{"s":"MIMO AFSMC","t":2.2,"v":4},{"s":"MIMO AFSMC","t":2.4,"v":10},{"s":"MIMO AFSMC","t":2.6,"v":13},{"s":"MIMO AFSMC","t":2.8,"v":11},{"s":"MIMO AFSMC","t":3,"v":5},{"s":"MIMO AFSMC","t":3.2,"v":-2},{"s":"MIMO AFSMC","t":3.4,"v":-12},{"s":"MIMO AFSMC","t":3.55,"v":-18},{"s":"MIMO AFSMC","t":3.7,"v":-15},{"s":"MIMO AFSMC","t":3.85,"v":-5},{"s":"MIMO AFSMC","t":4,"v":3},{"s":"MIMO AFSMC","t":4.1,"v":14},{"s":"MIMO AFSMC","t":4.2,"v":35},{"s":"MIMO AFSMC","t":4.3,"v":46},{"s":"MIMO AFSMC","t":4.35,"v":48},{"s":"MIMO AFSMC","t":4.4,"v":44},{"s":"MIMO AFSMC","t":4.5,"v":28},{"s":"MIMO AFSMC","t":4.6,"v":18},{"s":"MIMO AFSMC","t":4.7,"v":20},{"s":"MIMO AFSMC","t":4.8,"v":23},{"s":"MIMO AFSMC","t":4.9,"v":27},{"s":"MIMO AFSMC","t":5,"v":40},{"s":"MIMO AFSMC","t":5.1,"v":46},{"s":"MIMO AFSMC","t":5.2,"v":42},{"s":"MIMO AFSMC","t":5.35,"v":35},{"s":"MIMO AFSMC","t":5.5,"v":29},{"s":"MIMO AFSMC","t":5.6,"v":20},{"s":"MIMO AFSMC","t":5.7,"v":0},{"s":"MIMO AFSMC","t":5.8,"v":-14},{"s":"MIMO AFSMC","t":5.95,"v":-24},{"s":"MIMO AFSMC","t":6.05,"v":-26},{"s":"MIMO AFSMC","t":6.15,"v":-22},{"s":"MIMO AFSMC","t":6.25,"v":-12},{"s":"MIMO AFSMC","t":6.35,"v":5},{"s":"MIMO AFSMC","t":6.45,"v":17},{"s":"MIMO AFSMC","t":6.55,"v":22},{"s":"MIMO AFSMC","t":6.65,"v":19},{"s":"MIMO AFSMC","t":6.75,"v":14},{"s":"MIMO AFSMC","t":6.85,"v":9},{"s":"MIMO AFSMC","t":6.95,"v":6},{"s":"MIMO AFSMC","t":7.05,"v":9},{"s":"MIMO AFSMC","t":7.2,"v":9},{"s":"MIMO AFSMC","t":7.4,"v":12},{"s":"MIMO AFSMC","t":7.6,"v":10},{"s":"MIMO AFSMC","t":7.8,"v":4},{"s":"MIMO AFSMC","t":8,"v":-1},{"s":"MIMO AFSMC","t":8.15,"v":-19},{"s":"MIMO AFSMC","t":8.3,"v":-33},{"s":"MIMO AFSMC","t":8.4,"v":-36},{"s":"MIMO AFSMC","t":8.55,"v":-31},{"s":"MIMO AFSMC","t":8.7,"v":-12},{"s":"MIMO AFSMC","t":8.85,"v":-2},{"s":"MIMO AFSMC","t":9,"v":11},{"s":"MIMO AFSMC","t":9.15,"v":24},{"s":"MIMO AFSMC","t":9.35,"v":27},{"s":"MIMO AFSMC","t":9.5,"v":28},{"s":"MIMO AFSMC","t":9.7,"v":27},{"s":"MIMO AFSMC","t":9.9,"v":25},{"s":"MIMO AFSMC","t":10.05,"v":17},{"s":"MIMO AFSMC","t":10.2,"v":4},{"s":"MIMO AFSMC","t":10.35,"v":-14},{"s":"MIMO AFSMC","t":10.5,"v":-30},{"s":"MIMO AFSMC","t":10.6,"v":-38},{"s":"MIMO AFSMC","t":10.8,"v":-36},{"s":"MIMO AFSMC","t":10.95,"v":-33},{"s":"MIMO AFSMC","t":11.05,"v":-35},{"s":"MIMO AFSMC","t":11.25,"v":-28},{"s":"MIMO AFSMC","t":11.45,"v":-20},{"s":"MIMO AFSMC","t":11.65,"v":-18},{"s":"MIMO AFSMC","t":11.85,"v":-24},{"s":"MIMO AFSMC","t":12,"v":-28},{"s":"MIMO AFSMC","t":12.25,"v":-29},{"s":"MIMO AFSMC","t":12.4,"v":-27},{"s":"MIMO AFSMC","t":12.55,"v":-17},{"s":"MIMO AFSMC","t":12.75,"v":-15},{"s":"MIMO AFSMC","t":12.95,"v":-14},{"s":"MIMO AFSMC","t":13.15,"v":-15},{"s":"MIMO AFSMC","t":13.35,"v":-17},{"s":"MIMO AFSMC","t":13.5,"v":-17},{"s":"MIMO AFSMC","t":13.7,"v":-12},{"s":"MIMO AFSMC","t":13.9,"v":-8},{"s":"MIMO AFSMC","t":14.05,"v":1},{"s":"MIMO AFSMC","t":14.25,"v":9},{"s":"MIMO AFSMC","t":14.4,"v":13},{"s":"MIMO AFSMC","t":14.6,"v":14},{"s":"MIMO AFSMC","t":14.8,"v":12},{"s":"MIMO AFSMC","t":14.95,"v":9},{"s":"MIMO AFSMC","t":15.15,"v":0},{"s":"MIMO AFSMC","t":15.3,"v":-14},{"s":"MIMO AFSMC","t":15.5,"v":-23},{"s":"MIMO AFSMC","t":15.65,"v":-19},{"s":"MIMO AFSMC","t":15.8,"v":-10},{"s":"MIMO AFSMC","t":15.9,"v":6},{"s":"MIMO AFSMC","t":16.05,"v":20},{"s":"MIMO AFSMC","t":16.2,"v":33},{"s":"MIMO AFSMC","t":16.35,"v":40},{"s":"MIMO AFSMC","t":16.45,"v":38},{"s":"MIMO AFSMC","t":16.6,"v":27},{"s":"MIMO AFSMC","t":16.8,"v":22},{"s":"MIMO AFSMC","t":16.95,"v":22},{"s":"MIMO AFSMC","t":17.1,"v":27},{"s":"MIMO AFSMC","t":17.3,"v":28},{"s":"MIMO AFSMC","t":17.45,"v":24},{"s":"MIMO AFSMC","t":17.6,"v":10},{"s":"MIMO AFSMC","t":17.75,"v":-6},{"s":"MIMO AFSMC","t":17.85,"v":-15},{"s":"MIMO AFSMC","t":18.05,"v":-18},{"s":"MIMO AFSMC","t":18.2,"v":-12},{"s":"MIMO AFSMC","t":18.3,"v":6},{"s":"MIMO AFSMC","t":18.5,"v":14},{"s":"MIMO AFSMC","t":18.7,"v":12},{"s":"MIMO AFSMC","t":18.85,"v":8},{"s":"MIMO AFSMC","t":19.05,"v":5},{"s":"MIMO AFSMC","t":19.3,"v":6},{"s":"MIMO AFSMC","t":19.6,"v":7},{"s":"MIMO AFSMC","t":19.8,"v":5},{"s":"MIMO AFSMC","t":20,"v":-1},
{"s":"SISO AFSMC","t":0,"v":100},{"s":"SISO AFSMC","t":0.03,"v":40},{"s":"SISO AFSMC","t":0.06,"v":-28},{"s":"SISO AFSMC","t":0.1,"v":-150},{"s":"SISO AFSMC","t":0.14,"v":-189},{"s":"SISO AFSMC","t":0.18,"v":-132},{"s":"SISO AFSMC","t":0.23,"v":-28},{"s":"SISO AFSMC","t":0.32,"v":3},{"s":"SISO AFSMC","t":0.45,"v":18},{"s":"SISO AFSMC","t":0.55,"v":-16},{"s":"SISO AFSMC","t":0.64,"v":-41},{"s":"SISO AFSMC","t":0.77,"v":-36},{"s":"SISO AFSMC","t":0.86,"v":-15},{"s":"SISO AFSMC","t":1,"v":-8},{"s":"SISO AFSMC","t":1.14,"v":-3},{"s":"SISO AFSMC","t":1.3,"v":-5},{"s":"SISO AFSMC","t":1.5,"v":-8},{"s":"SISO AFSMC","t":1.68,"v":-5},{"s":"SISO AFSMC","t":1.86,"v":0},{"s":"SISO AFSMC","t":1.95,"v":3},
{"s":"SISO AFSMC","t":2,"v":2},{"s":"SISO AFSMC","t":2.2,"v":6},{"s":"SISO AFSMC","t":2.4,"v":10},{"s":"SISO AFSMC","t":2.6,"v":12},{"s":"SISO AFSMC","t":2.8,"v":10},{"s":"SISO AFSMC","t":3,"v":3},{"s":"SISO AFSMC","t":3.2,"v":-4},{"s":"SISO AFSMC","t":3.4,"v":-14},{"s":"SISO AFSMC","t":3.55,"v":-18},{"s":"SISO AFSMC","t":3.7,"v":-16},{"s":"SISO AFSMC","t":3.85,"v":-6},{"s":"SISO AFSMC","t":4,"v":2},{"s":"SISO AFSMC","t":4.1,"v":12},{"s":"SISO AFSMC","t":4.2,"v":28},{"s":"SISO AFSMC","t":4.3,"v":40},{"s":"SISO AFSMC","t":4.35,"v":43},{"s":"SISO AFSMC","t":4.4,"v":45},{"s":"SISO AFSMC","t":4.5,"v":35},{"s":"SISO AFSMC","t":4.6,"v":20},{"s":"SISO AFSMC","t":4.7,"v":14},{"s":"SISO AFSMC","t":4.8,"v":18},{"s":"SISO AFSMC","t":4.9,"v":24},{"s":"SISO AFSMC","t":5,"v":38},{"s":"SISO AFSMC","t":5.1,"v":45},{"s":"SISO AFSMC","t":5.2,"v":43},{"s":"SISO AFSMC","t":5.35,"v":36},{"s":"SISO AFSMC","t":5.5,"v":30},{"s":"SISO AFSMC","t":5.6,"v":22},{"s":"SISO AFSMC","t":5.7,"v":3},{"s":"SISO AFSMC","t":5.8,"v":-10},{"s":"SISO AFSMC","t":5.95,"v":-18},{"s":"SISO AFSMC","t":6.05,"v":-22},{"s":"SISO AFSMC","t":6.15,"v":-24},{"s":"SISO AFSMC","t":6.25,"v":-15},{"s":"SISO AFSMC","t":6.35,"v":2},{"s":"SISO AFSMC","t":6.45,"v":14},{"s":"SISO AFSMC","t":6.55,"v":24},{"s":"SISO AFSMC","t":6.65,"v":27},{"s":"SISO AFSMC","t":6.75,"v":18},{"s":"SISO AFSMC","t":6.85,"v":10},{"s":"SISO AFSMC","t":6.95,"v":6},{"s":"SISO AFSMC","t":7.05,"v":8},{"s":"SISO AFSMC","t":7.2,"v":9},{"s":"SISO AFSMC","t":7.4,"v":12},{"s":"SISO AFSMC","t":7.6,"v":11},{"s":"SISO AFSMC","t":7.8,"v":6},{"s":"SISO AFSMC","t":8,"v":1},{"s":"SISO AFSMC","t":8.15,"v":-15},{"s":"SISO AFSMC","t":8.3,"v":-30},{"s":"SISO AFSMC","t":8.4,"v":-36},{"s":"SISO AFSMC","t":8.55,"v":-33},{"s":"SISO AFSMC","t":8.7,"v":-14},{"s":"SISO AFSMC","t":8.85,"v":-3},{"s":"SISO AFSMC","t":9,"v":10},{"s":"SISO AFSMC","t":9.15,"v":22},{"s":"SISO AFSMC","t":9.35,"v":27},{"s":"SISO AFSMC","t":9.5,"v":28},{"s":"SISO AFSMC","t":9.7,"v":27},{"s":"SISO AFSMC","t":9.9,"v":26},{"s":"SISO AFSMC","t":10.05,"v":18},{"s":"SISO AFSMC","t":10.2,"v":6},{"s":"SISO AFSMC","t":10.35,"v":-12},{"s":"SISO AFSMC","t":10.5,"v":-26},{"s":"SISO AFSMC","t":10.6,"v":-35},{"s":"SISO AFSMC","t":10.7,"v":-40},{"s":"SISO AFSMC","t":10.8,"v":-37},{"s":"SISO AFSMC","t":10.95,"v":-33},{"s":"SISO AFSMC","t":11.05,"v":-34},{"s":"SISO AFSMC","t":11.25,"v":-27},{"s":"SISO AFSMC","t":11.45,"v":-20},{"s":"SISO AFSMC","t":11.65,"v":-17},{"s":"SISO AFSMC","t":11.85,"v":-22},{"s":"SISO AFSMC","t":12,"v":-27},{"s":"SISO AFSMC","t":12.25,"v":-29},{"s":"SISO AFSMC","t":12.4,"v":-27},{"s":"SISO AFSMC","t":12.55,"v":-17},{"s":"SISO AFSMC","t":12.75,"v":-14},{"s":"SISO AFSMC","t":12.95,"v":-13},{"s":"SISO AFSMC","t":13.15,"v":-15},{"s":"SISO AFSMC","t":13.35,"v":-17},{"s":"SISO AFSMC","t":13.5,"v":-18},{"s":"SISO AFSMC","t":13.7,"v":-14},{"s":"SISO AFSMC","t":13.9,"v":-9},{"s":"SISO AFSMC","t":14.05,"v":1},{"s":"SISO AFSMC","t":14.25,"v":9},{"s":"SISO AFSMC","t":14.4,"v":14},{"s":"SISO AFSMC","t":14.6,"v":15},{"s":"SISO AFSMC","t":14.8,"v":13},{"s":"SISO AFSMC","t":14.95,"v":10},{"s":"SISO AFSMC","t":15.15,"v":1},{"s":"SISO AFSMC","t":15.3,"v":-12},{"s":"SISO AFSMC","t":15.5,"v":-24},{"s":"SISO AFSMC","t":15.65,"v":-21},{"s":"SISO AFSMC","t":15.8,"v":-11},{"s":"SISO AFSMC","t":15.9,"v":4},{"s":"SISO AFSMC","t":16.05,"v":19},{"s":"SISO AFSMC","t":16.2,"v":32},{"s":"SISO AFSMC","t":16.35,"v":40},{"s":"SISO AFSMC","t":16.45,"v":39},{"s":"SISO AFSMC","t":16.6,"v":29},{"s":"SISO AFSMC","t":16.8,"v":24},{"s":"SISO AFSMC","t":16.95,"v":25},{"s":"SISO AFSMC","t":17.1,"v":28},{"s":"SISO AFSMC","t":17.3,"v":29},{"s":"SISO AFSMC","t":17.45,"v":25},{"s":"SISO AFSMC","t":17.6,"v":11},{"s":"SISO AFSMC","t":17.75,"v":-5},{"s":"SISO AFSMC","t":17.85,"v":-14},{"s":"SISO AFSMC","t":18.05,"v":-18},{"s":"SISO AFSMC","t":18.2,"v":-13},{"s":"SISO AFSMC","t":18.3,"v":4},{"s":"SISO AFSMC","t":18.5,"v":12},{"s":"SISO AFSMC","t":18.7,"v":12},{"s":"SISO AFSMC","t":18.85,"v":9},{"s":"SISO AFSMC","t":19.05,"v":6},{"s":"SISO AFSMC","t":19.3,"v":6},{"s":"SISO AFSMC","t":19.6,"v":7},{"s":"SISO AFSMC","t":19.8,"v":5},{"s":"SISO AFSMC","t":20,"v":-1},
{"s":"SISO AFTSMC","t":0,"v":110},{"s":"SISO AFTSMC","t":0.03,"v":-60},{"s":"SISO AFTSMC","t":0.07,"v":-200},{"s":"SISO AFTSMC","t":0.12,"v":-200},{"s":"SISO AFTSMC","t":0.17,"v":-60},{"s":"SISO AFTSMC","t":0.22,"v":30},{"s":"SISO AFTSMC","t":0.27,"v":52},{"s":"SISO AFTSMC","t":0.33,"v":55},{"s":"SISO AFTSMC","t":0.41,"v":67},{"s":"SISO AFTSMC","t":0.45,"v":40},{"s":"SISO AFTSMC","t":0.5,"v":-23},{"s":"SISO AFTSMC","t":0.56,"v":-67},{"s":"SISO AFTSMC","t":0.62,"v":-78},{"s":"SISO AFTSMC","t":0.68,"v":-60},{"s":"SISO AFTSMC","t":0.73,"v":-34},{"s":"SISO AFTSMC","t":0.78,"v":-10},{"s":"SISO AFTSMC","t":0.82,"v":23},{"s":"SISO AFTSMC","t":0.86,"v":20},{"s":"SISO AFTSMC","t":0.92,"v":-8},{"s":"SISO AFTSMC","t":0.97,"v":-28},{"s":"SISO AFTSMC","t":1.05,"v":-41},{"s":"SISO AFTSMC","t":1.12,"v":-10},{"s":"SISO AFTSMC","t":1.2,"v":10},{"s":"SISO AFTSMC","t":1.23,"v":16},{"s":"SISO AFTSMC","t":1.28,"v":2},{"s":"SISO AFTSMC","t":1.36,"v":-23},{"s":"SISO AFTSMC","t":1.45,"v":-28},{"s":"SISO AFTSMC","t":1.55,"v":5},{"s":"SISO AFTSMC","t":1.6,"v":-5},{"s":"SISO AFTSMC","t":1.68,"v":-18},{"s":"SISO AFTSMC","t":1.75,"v":-8},{"s":"SISO AFTSMC","t":1.82,"v":0},{"s":"SISO AFTSMC","t":1.9,"v":3},{"s":"SISO AFTSMC","t":1.95,"v":0},
{"s":"SISO AFTSMC","t":2,"v":0},{"s":"SISO AFTSMC","t":2.2,"v":5},{"s":"SISO AFTSMC","t":2.4,"v":10},{"s":"SISO AFTSMC","t":2.6,"v":12},{"s":"SISO AFTSMC","t":2.8,"v":10},{"s":"SISO AFTSMC","t":3,"v":4},{"s":"SISO AFTSMC","t":3.2,"v":-3},{"s":"SISO AFTSMC","t":3.4,"v":-13},{"s":"SISO AFTSMC","t":3.55,"v":-17},{"s":"SISO AFTSMC","t":3.7,"v":-13},{"s":"SISO AFTSMC","t":3.85,"v":-3},{"s":"SISO AFTSMC","t":4,"v":5},{"s":"SISO AFTSMC","t":4.1,"v":16},{"s":"SISO AFTSMC","t":4.2,"v":31},{"s":"SISO AFTSMC","t":4.3,"v":39},{"s":"SISO AFTSMC","t":4.4,"v":36},{"s":"SISO AFTSMC","t":4.5,"v":26},{"s":"SISO AFTSMC","t":4.6,"v":23},{"s":"SISO AFTSMC","t":4.7,"v":26},{"s":"SISO AFTSMC","t":4.8,"v":23},{"s":"SISO AFTSMC","t":4.9,"v":26},{"s":"SISO AFTSMC","t":5,"v":39},{"s":"SISO AFTSMC","t":5.1,"v":45},{"s":"SISO AFTSMC","t":5.2,"v":41},{"s":"SISO AFTSMC","t":5.35,"v":34},{"s":"SISO AFTSMC","t":5.5,"v":28},{"s":"SISO AFTSMC","t":5.6,"v":18},{"s":"SISO AFTSMC","t":5.7,"v":-3},{"s":"SISO AFTSMC","t":5.8,"v":-13},{"s":"SISO AFTSMC","t":5.95,"v":-19},{"s":"SISO AFTSMC","t":6.05,"v":-22},{"s":"SISO AFTSMC","t":6.15,"v":-18},{"s":"SISO AFTSMC","t":6.25,"v":-10},{"s":"SISO AFTSMC","t":6.35,"v":8},{"s":"SISO AFTSMC","t":6.45,"v":18},{"s":"SISO AFTSMC","t":6.55,"v":23},{"s":"SISO AFTSMC","t":6.65,"v":18},{"s":"SISO AFTSMC","t":6.75,"v":13},{"s":"SISO AFTSMC","t":6.85,"v":13},{"s":"SISO AFTSMC","t":6.95,"v":5},{"s":"SISO AFTSMC","t":7.05,"v":9},{"s":"SISO AFTSMC","t":7.2,"v":8},{"s":"SISO AFTSMC","t":7.4,"v":12},{"s":"SISO AFTSMC","t":7.6,"v":10},{"s":"SISO AFTSMC","t":7.8,"v":5},{"s":"SISO AFTSMC","t":8,"v":0},{"s":"SISO AFTSMC","t":8.15,"v":-18},{"s":"SISO AFTSMC","t":8.3,"v":-31},{"s":"SISO AFTSMC","t":8.4,"v":-35},{"s":"SISO AFTSMC","t":8.55,"v":-30},{"s":"SISO AFTSMC","t":8.7,"v":-10},{"s":"SISO AFTSMC","t":8.85,"v":0},{"s":"SISO AFTSMC","t":9,"v":13},{"s":"SISO AFTSMC","t":9.15,"v":25},{"s":"SISO AFTSMC","t":9.35,"v":27},{"s":"SISO AFTSMC","t":9.5,"v":28},{"s":"SISO AFTSMC","t":9.7,"v":26},{"s":"SISO AFTSMC","t":9.9,"v":25},{"s":"SISO AFTSMC","t":10.05,"v":16},{"s":"SISO AFTSMC","t":10.2,"v":3},{"s":"SISO AFTSMC","t":10.35,"v":-16},{"s":"SISO AFTSMC","t":10.5,"v":-28},{"s":"SISO AFTSMC","t":10.6,"v":-35},{"s":"SISO AFTSMC","t":10.8,"v":-34},{"s":"SISO AFTSMC","t":10.95,"v":-32},{"s":"SISO AFTSMC","t":11.05,"v":-36},{"s":"SISO AFTSMC","t":11.25,"v":-28},{"s":"SISO AFTSMC","t":11.45,"v":-21},{"s":"SISO AFTSMC","t":11.65,"v":-18},{"s":"SISO AFTSMC","t":11.85,"v":-23},{"s":"SISO AFTSMC","t":12,"v":-27},{"s":"SISO AFTSMC","t":12.25,"v":-28},{"s":"SISO AFTSMC","t":12.4,"v":-26},{"s":"SISO AFTSMC","t":12.55,"v":-16},{"s":"SISO AFTSMC","t":12.75,"v":-16},{"s":"SISO AFTSMC","t":12.95,"v":-13},{"s":"SISO AFTSMC","t":13.15,"v":-16},{"s":"SISO AFTSMC","t":13.35,"v":-17},{"s":"SISO AFTSMC","t":13.5,"v":-18},{"s":"SISO AFTSMC","t":13.7,"v":-13},{"s":"SISO AFTSMC","t":13.9,"v":-9},{"s":"SISO AFTSMC","t":14.05,"v":0},{"s":"SISO AFTSMC","t":14.25,"v":8},{"s":"SISO AFTSMC","t":14.4,"v":13},{"s":"SISO AFTSMC","t":14.6,"v":14},{"s":"SISO AFTSMC","t":14.8,"v":12},{"s":"SISO AFTSMC","t":14.95,"v":9},{"s":"SISO AFTSMC","t":15.15,"v":0},{"s":"SISO AFTSMC","t":15.3,"v":-13},{"s":"SISO AFTSMC","t":15.5,"v":-21},{"s":"SISO AFTSMC","t":15.65,"v":-17},{"s":"SISO AFTSMC","t":15.8,"v":-8},{"s":"SISO AFTSMC","t":15.9,"v":8},{"s":"SISO AFTSMC","t":16.05,"v":21},{"s":"SISO AFTSMC","t":16.2,"v":31},{"s":"SISO AFTSMC","t":16.35,"v":36},{"s":"SISO AFTSMC","t":16.45,"v":34},{"s":"SISO AFTSMC","t":16.6,"v":26},{"s":"SISO AFTSMC","t":16.8,"v":23},{"s":"SISO AFTSMC","t":16.95,"v":23},{"s":"SISO AFTSMC","t":17.1,"v":27},{"s":"SISO AFTSMC","t":17.3,"v":28},{"s":"SISO AFTSMC","t":17.45,"v":23},{"s":"SISO AFTSMC","t":17.6,"v":8},{"s":"SISO AFTSMC","t":17.75,"v":-8},{"s":"SISO AFTSMC","t":17.85,"v":-16},{"s":"SISO AFTSMC","t":18.05,"v":-17},{"s":"SISO AFTSMC","t":18.2,"v":-10},{"s":"SISO AFTSMC","t":18.3,"v":8},{"s":"SISO AFTSMC","t":18.5,"v":13},{"s":"SISO AFTSMC","t":18.7,"v":12},{"s":"SISO AFTSMC","t":18.85,"v":8},{"s":"SISO AFTSMC","t":19.05,"v":5},{"s":"SISO AFTSMC","t":19.3,"v":6},{"s":"SISO AFTSMC","t":19.6,"v":8},{"s":"SISO AFTSMC","t":19.8,"v":6},{"s":"SISO AFTSMC","t":20,"v":-1}
]
},
"vconcat": [
{
  "width": 734, "height": 579,
  "title": {"text": "a"},
  "layer": [
    {
      "data": {"name": "ja"},
      "mark": {"type": "line", "strokeWidth": 1.2, "clip": true},
      "encoding": {
        "x": {"field": "t", "type": "quantitative", "scale": {"domain": [0, 20], "nice": false, "zero": false}, "axis": {"values": [0,2,4,6,8,10,12,14,16,18,20], "title": "time (sec)", "grid": true}},
        "y": {"field": "v", "type": "quantitative", "scale": {"domain": [-300, 300], "nice": false, "zero": false}, "axis": {"values": [-300,-200,-100,0,100,200,300], "title": "Torque of joint 1 (N-m)", "grid": true, "labelExpr": "'' + datum.value"}},
        "color": {"field": "s", "type": "nominal", "scale": {"domain": ["MIMO AFTSMC","MIMO AFSMC","SISO AFTSMC","SISO AFSMC"], "range": ["#000000","#0000ff","#ff0000","#00ff00"]}, "legend": {"title": null, "orient": "none", "legendX": 486, "legendY": 10}},
        "strokeDash": {"field": "s", "type": "nominal", "scale": {"domain": ["MIMO AFTSMC","MIMO AFSMC","SISO AFTSMC","SISO AFSMC"], "range": [[1,0],[1,0],[1,0],[20,8,4,8]]}, "legend": {"title": null, "orient": "none", "legendX": 486, "legendY": 10}}
      }
    },
    {
      "data": {"values": [{"v": 0}]},
      "mark": {"type": "rule", "color": "#000", "strokeWidth": 1},
      "encoding": {"y": {"field": "v", "type": "quantitative"}}
    }
  ]
},
{
  "width": 734, "height": 579,
  "title": {"text": "b"},
  "layer": [
    {
      "data": {"name": "jb"},
      "mark": {"type": "line", "strokeWidth": 1.2, "clip": true},
      "encoding": {
        "x": {"field": "t", "type": "quantitative", "scale": {"domain": [0, 20], "nice": false, "zero": false}, "axis": {"values": [0,2,4,6,8,10,12,14,16,18,20], "title": "time (sec)", "grid": true}},
        "y": {"field": "v", "type": "quantitative", "scale": {"domain": [-200, 200], "nice": false, "zero": false}, "axis": {"values": [-200,-150,-100,-50,0,50,100,150,200], "title": "Torque of joint 2 (N-m)", "grid": true, "labelExpr": "'' + datum.value"}},
        "color": {"field": "s", "type": "nominal", "scale": {"domain": ["MIMO AFTSMC","MIMO AFSMC","SISO AFTSMC","SISO AFSMC"], "range": ["#000000","#0000ff","#ff0000","#00ff00"]}, "legend": {"title": null, "orient": "none", "legendX": 486, "legendY": 11}},
        "strokeDash": {"field": "s", "type": "nominal", "scale": {"domain": ["MIMO AFTSMC","MIMO AFSMC","SISO AFTSMC","SISO AFSMC"], "range": [[1,0],[1,0],[1,0],[20,8,4,8]]}, "legend": {"title": null, "orient": "none", "legendX": 486, "legendY": 11}}
      }
    }
  ]
}
],
"resolve": {"scale": {"color": "independent", "strokeDash": "independent"}}
}
